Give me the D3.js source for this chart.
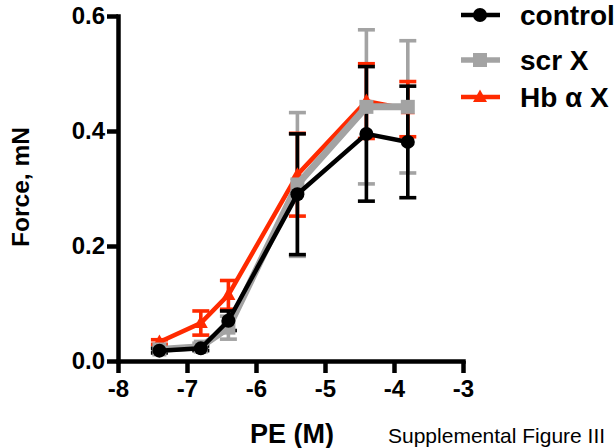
<!DOCTYPE html>
<html>
<head>
<meta charset="utf-8">
<script src="https://cdn.jsdelivr.net/npm/d3@7"></script>
<style>
  html, body { margin: 0; padding: 0; background: #fff; }
  svg { display: block; }
  text { font-family: "Liberation Sans", Arial, Helvetica, sans-serif; }
</style>
</head>
<body>
<svg id="chart" width="615" height="448"></svg>
<script>
// ---- data ----
const xValues = [-7.4, -6.8, -6.4, -5.4, -4.4, -3.8];
const seriesNames = ["control", "scr X", "Hb \u03b1 X"];
const controlMean = [0.018, 0.022, 0.070, 0.290, 0.395, 0.381];
const controlSem  = [0.004, 0.004, 0.017, 0.105, 0.117, 0.097];
const scrMean     = [0.020, 0.025, 0.058, 0.307, 0.442, 0.442];
const scrSem      = [0.004, 0.006, 0.020, 0.125, 0.134, 0.115];
const hbMean      = [0.033, 0.066, 0.115, 0.324, 0.452, 0.438];
const hbSem       = [0.004, 0.021, 0.025, 0.072, 0.065, 0.048];
const xTicks = [-8, -7, -6, -5, -4, -3];
const yTicks = [0.0, 0.2, 0.4, 0.6];

const BLACK = "#000000", GREY = "#a3a3a3", RED = "#ff2a00";

const series = [
  { name: seriesNames[0], mean: controlMean, sem: controlSem, color: BLACK, marker: "circle", lw: 4.5 },
  { name: seriesNames[1], mean: scrMean, sem: scrSem, color: GREY, marker: "square", lw: 7 },
  { name: seriesNames[2], mean: hbMean, sem: hbSem, color: RED, marker: "triangle", lw: 4.5 }
];

const svg = d3.select("#chart");
const x = d3.scaleLinear().domain([-8, -3]).range([118, 463]);
const y = d3.scaleLinear().domain([0, 0.6]).range([361, 16]);

// ---- axes ----
const yAxis = svg.append("g").attr("transform", "translate(118,0)")
  .call(d3.axisLeft(y).tickValues(yTicks).tickFormat(d3.format(".1f")).tickSize(11).tickSizeOuter(0).tickPadding(2));
const xAxis = svg.append("g").attr("transform", "translate(0,361)")
  .call(d3.axisBottom(x).tickValues(xTicks).tickFormat(d => d).tickSize(12).tickSizeOuter(0).tickPadding(7));
[yAxis, xAxis].forEach(g => {
  g.select(".domain").attr("stroke", "#000").attr("stroke-width", 4.5).attr("stroke-linecap", "square");
  g.selectAll(".tick line").attr("stroke", "#000").attr("stroke-width", 4.5);
  g.selectAll(".tick text").attr("fill", "#000").attr("font-size", 24).attr("font-weight", "bold")
    .attr("font-family", "Liberation Sans, Arial, sans-serif");
});
xAxis.selectAll(".tick text").text(d => d === 0 ? "0" : "-" + Math.abs(d));

// axis titles
svg.append("text").attr("transform", "translate(29,187) rotate(-90)")
  .attr("text-anchor", "middle").attr("font-size", 24.5).attr("font-weight", "bold").text("Force, mN");
svg.append("text").attr("x", 292).attr("y", 443)
  .attr("text-anchor", "middle").attr("font-size", 27).attr("font-weight", "bold").text("PE (M)");
svg.append("text").attr("x", 388).attr("y", 443)
  .attr("font-size", 21).text("Supplemental Figure III");

// ---- error bars (all series first) ----
const capW = 17;
const ebOrder = [series[1], series[2], series[0]];
ebOrder.forEach(s => {
  const g = svg.append("g").attr("stroke", s.color).attr("stroke-width", 3.6).attr("fill", "none");
  xValues.forEach((xv, i) => {
    const cx = x(xv), top = y(s.mean[i] + s.sem[i]), bot = y(s.mean[i] - s.sem[i]);
    g.append("line").attr("x1", cx).attr("x2", cx).attr("y1", top).attr("y2", bot);
    g.append("line").attr("x1", cx - capW / 2).attr("x2", cx + capW / 2).attr("y1", top).attr("y2", top);
    g.append("line").attr("x1", cx - capW / 2).attr("x2", cx + capW / 2).attr("y1", bot).attr("y2", bot);
  });
});

// ---- lines + markers ----
function drawMarker(g, type, cx, cy, color, scale = 1) {
  if (type === "circle") {
    g.append("circle").attr("cx", cx).attr("cy", cy).attr("r", 7 * scale).attr("fill", color);
  } else if (type === "square") {
    const s = 14 * scale;
    g.append("rect").attr("x", cx - s / 2).attr("y", cy - s / 2).attr("width", s).attr("height", s).attr("fill", color);
  } else {
    const s = 14 * scale;
    const h = s * 0.9;
    g.append("path").attr("d", `M${cx},${cy - h * 0.6}L${cx + s / 2},${cy + h * 0.4}L${cx - s / 2},${cy + h * 0.4}Z`).attr("fill", color);
  }
}
const line = d3.line().x((d, i) => x(xValues[i])).y(d => y(d));
[series[2], series[1], series[0]].forEach(s => {
  const g = svg.append("g");
  g.append("path").attr("d", line(s.mean)).attr("fill", "none").attr("stroke", s.color)
    .attr("stroke-width", s.lw).attr("stroke-linejoin", "miter");
  s.mean.forEach((v, i) => drawMarker(g, s.marker, x(xValues[i]), y(v), s.color));
});

// ---- legend ----
const legY = [15, 60, 97];
series.forEach((s, i) => {
  const g = svg.append("g");
  g.append("line").attr("x1", 461).attr("x2", 500).attr("y1", legY[i]).attr("y2", legY[i])
    .attr("stroke", s.color).attr("stroke-width", s.marker === "square" ? 5.5 : 4.5);
  drawMarker(g, s.marker, 480, legY[i], s.color);
  g.append("text").attr("x", 520).attr("y", legY[i] + 9.5).attr("font-size", 28).attr("font-weight", "bold")
    .attr("fill", "#000").text(s.name);
});
</script>
</body>
</html>
